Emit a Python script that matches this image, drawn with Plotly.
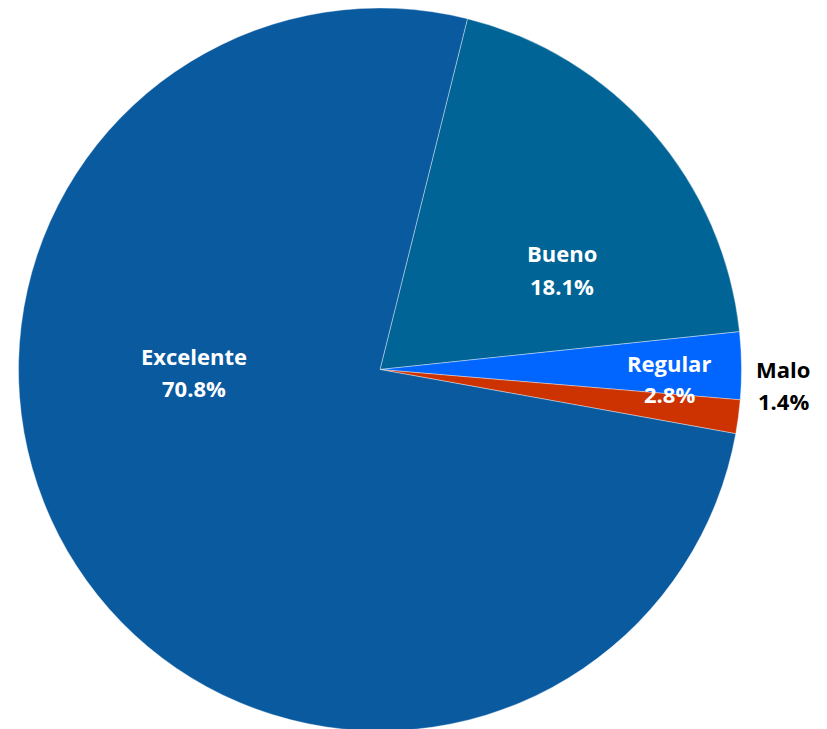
import plotly.graph_objects as go

categories = ["Bueno", "Regular", "Malo", "Excelente"]
values = [18.1, 2.8, 1.4, 70.8]
colors = ["#006496", "#0066FF", "#CC3300", "#0A5AA0"]

W, H = 827, 729
OFF = 8  # page body margin in the browser

def px(X, Y):
    return (X - OFF) / W, 1 - (Y - OFF) / H

# label placement in screen px: (x, y of name, y of value, color)
label_pos = {
    "Excelente": (194, 356, 388, "white"),
    "Bueno": (562, 253, 286, "white"),
    "Regular": (669, 363, 394, "white"),
    "Malo": (783, 369, 401, "black"),
}

cx, cy, r = 380 - OFF, 369 - OFF, 362

fig = go.Figure(
    go.Pie(
        labels=categories,
        values=values,
        sort=False,
        direction="clockwise",
        rotation=14,
        marker=dict(colors=colors, line=dict(color="rgba(255,255,255,0.38)", width=1)),
        textinfo="none",
        hoverinfo="label+value",
        domain=dict(x=[max(0, (cx - r) / W), min(1, (cx + r) / W)],
                    y=[max(0, 1 - (cy + r) / H), min(1, 1 - (cy - r) / H)]),
        showlegend=False,
    )
)

for cat, val in zip(categories, values):
    X, Y1, Y2, col = label_pos[cat]
    for txt, Y in ((cat, Y1), (f"{val:.1f}%", Y2)):
        x, y = px(X, Y)
        fig.add_annotation(
            x=x, y=y, xref="paper", yref="paper",
            xanchor="center", yanchor="middle",
            text=f"<b>{txt}</b>",
            showarrow=False,
            font=dict(family="Open Sans", size=22, color=col),
        )

fig.update_layout(
    width=W, height=H,
    margin=dict(l=0, r=0, t=0, b=0),
    paper_bgcolor="white",
    plot_bgcolor="white",
)

fig.write_html("out.html")
